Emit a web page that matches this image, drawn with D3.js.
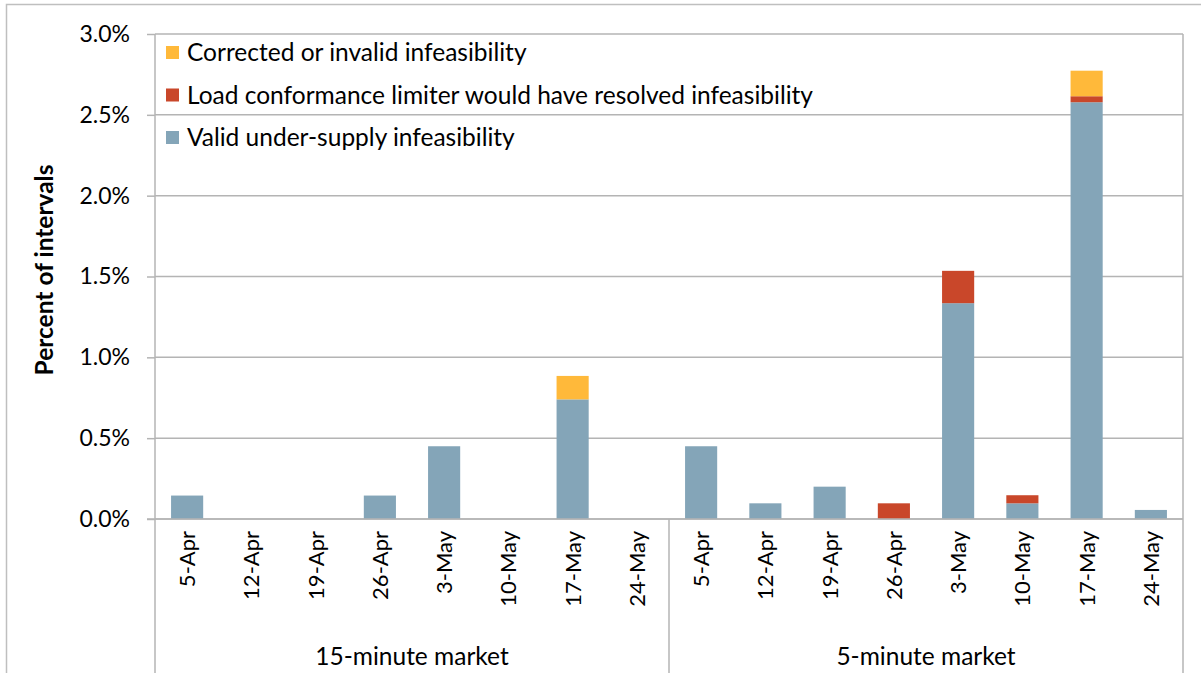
<!DOCTYPE html>
<html>
<head>
<meta charset="utf-8">
<script src="https://cdn.jsdelivr.net/npm/d3@7"></script>
<style>
  body { margin: 0; background: #fff; }
  svg { display: block; }
  text { font-family: Lato, "Open Sans", sans-serif; fill: #000; }
</style>
</head>
<body>
<script>
const groups = ["15-minute market", "5-minute market"];
const weeks = ["5-Apr", "12-Apr", "19-Apr", "26-Apr", "3-May", "10-May", "17-May", "24-May"];
const seriesNames = ["Valid under-supply infeasibility", "Load conformance limiter would have resolved infeasibility", "Corrected or invalid infeasibility"];
const seriesColors = ["#84A5B8", "#C9472A", "#FFB93A"];
// values in percent, 15-minute market then 5-minute market
const validUnderSupply = [0.145, 0, 0, 0.145, 0.45, 0, 0.74, 0,   0.45, 0.097, 0.20, 0, 1.335, 0.097, 2.578, 0.056];
const loadConformance  = [0, 0, 0, 0, 0, 0, 0, 0,                  0, 0, 0, 0.097, 0.20, 0.05, 0.037, 0];
const correctedInvalid = [0, 0, 0, 0, 0, 0, 0.145, 0,              0, 0, 0, 0, 0, 0, 0.158, 0];
const yTicks = [0, 0.5, 1.0, 1.5, 2.0, 2.5, 3.0];

const W = 1201, H = 673;
const mLeft = 155, mRight = 1183, mTop = 34, mBottom = 519;

const svg = d3.select("body").append("svg").attr("width", W).attr("height", H);

// outer chart border
svg.append("rect").attr("x", 6.5).attr("y", 4.5).attr("width", 1210).attr("height", 700)
  .attr("fill", "none").attr("stroke", "#BFBFBF").attr("stroke-width", 1.5);

const cats = [];
groups.forEach((g, gi) => weeks.forEach((w, wi) => cats.push({ key: g + "|" + w, group: g, week: w, i: gi * weeks.length + wi })));

const x = d3.scaleBand().domain(cats.map(c => c.key)).range([mLeft, mRight]).paddingInner(0.5).paddingOuter(0.25);
const y = d3.scaleLinear().domain([0, 3]).range([mBottom, mTop]);

// ticks + labels
const yAxis = d3.axisLeft(y).tickValues(yTicks).tickFormat(d => d.toFixed(1) + "%").tickSize(8).tickPadding(17);
const ga = svg.append("g").attr("transform", `translate(${mLeft},0)`).call(yAxis);
ga.select(".domain").remove();
ga.selectAll(".tick line").attr("stroke", "#B4B4B4").attr("stroke-width", 1.5);
ga.selectAll(".tick text").attr("font-size", 23).attr("font-family", "Lato, sans-serif").attr("fill", "#000");

// gridlines
svg.append("g").selectAll("line").data(yTicks).join("line")
  .attr("x1", mLeft).attr("x2", mRight)
  .attr("y1", d => y(d)).attr("y2", d => y(d))
  .attr("stroke", "#B4B4B4").attr("stroke-width", 1.5);

// vertical frame lines
[mLeft, mRight].forEach(xx => svg.append("line").attr("x1", xx).attr("x2", xx).attr("y1", mTop).attr("y2", H)
  .attr("stroke", "#B4B4B4").attr("stroke-width", 1.5));
const sepX = (x(cats[7].key) + x.bandwidth() + x(cats[8].key)) / 2;
svg.append("line").attr("x1", sepX).attr("x2", sepX).attr("y1", mBottom).attr("y2", H)
  .attr("stroke", "#B4B4B4").attr("stroke-width", 1.5);

// stacked bars
const rows = cats.map((c, i) => ({ key: c.key, s0: validUnderSupply[i], s1: loadConformance[i], s2: correctedInvalid[i] }));
const stack = d3.stack().keys(["s0", "s1", "s2"])(rows);
svg.append("g").selectAll("g").data(stack).join("g")
  .attr("fill", (d, i) => seriesColors[i])
  .selectAll("rect").data(d => d.filter(p => p[1] - p[0] > 0)).join("rect")
  .attr("x", d => x(d.data.key)).attr("width", x.bandwidth())
  .attr("y", d => y(d[1])).attr("height", d => y(d[0]) - y(d[1]));

// zero line over bars
svg.append("line").attr("x1", mLeft - 8).attr("x2", mRight).attr("y1", y(0)).attr("y2", y(0))
  .attr("stroke", "#B4B4B4").attr("stroke-width", 1.5);

// category labels (rotated)
svg.append("g").selectAll("text").data(cats).join("text")
  .attr("transform", d => `translate(${x(d.key) + x.bandwidth() / 2 + 8},${mBottom + 12}) rotate(-90)`)
  .attr("text-anchor", "end").attr("font-size", 22)
  .text(d => d.week);

// group labels
groups.forEach((g, gi) => {
  const a = x(cats[gi * 8].key), b = x(cats[gi * 8 + 7].key) + x.bandwidth();
  svg.append("text").attr("x", (a + b) / 2).attr("y", 665).attr("text-anchor", "middle")
    .attr("font-size", 24.5).text(g);
});

// y axis title
svg.append("text").attr("transform", `translate(53,270) rotate(-90)`)
  .attr("text-anchor", "middle").attr("font-size", 24.5).attr("font-weight", "bold")
  .text("Percent of intervals");

// legend (top item is last series)
const legendItems = [2, 1, 0];
const lg = svg.append("g");
legendItems.forEach((si, k) => {
  const cy = 52 + k * 42.5;
  lg.append("rect").attr("x", 166).attr("y", cy - 6).attr("width", 13).attr("height", 13).attr("fill", seriesColors[si]);
  lg.append("text").attr("x", 187).attr("y", cy + 9).attr("font-size", 24.5).text(seriesNames[si]);
});
</script>
</body>
</html>
